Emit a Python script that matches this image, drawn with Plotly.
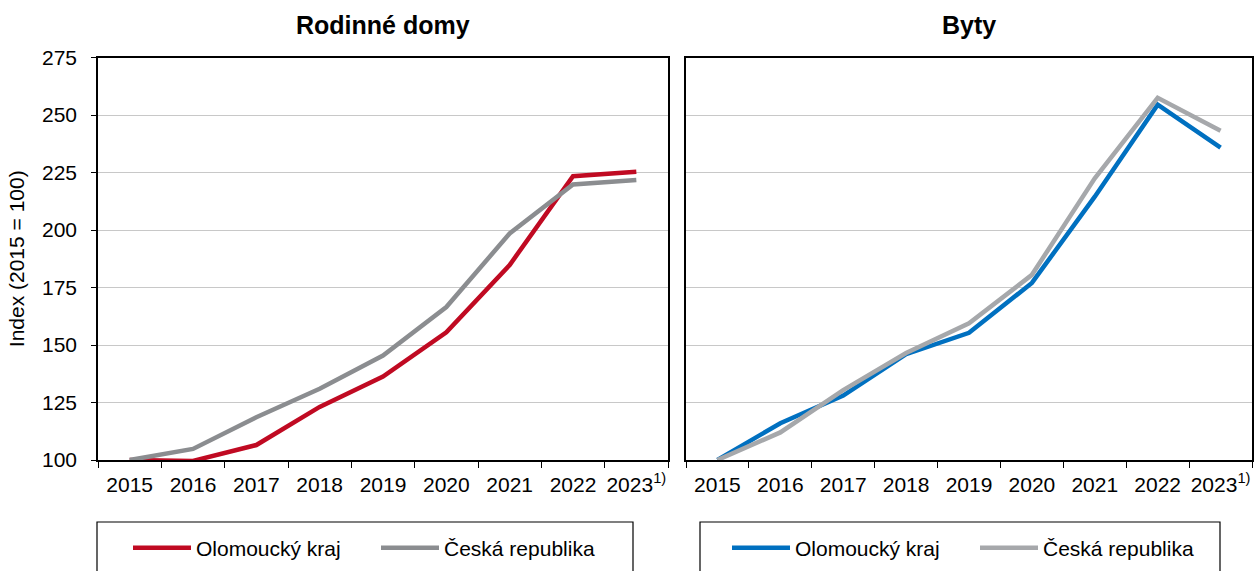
import plotly.graph_objects as go

years = ["2015", "2016", "2017", "2018", "2019", "2020", "2021", "2022", "2023"]
tick_labels = ["2015", "2016", "2017", "2018", "2019", "2020", "2021", "2022", "2023<sup>1)</sup>"]

rd_olomoucky = [100, 99.6, 106.5, 123.1, 136.3, 155.5, 184.8, 223.4, 225.3]
rd_cr = [100, 104.8, 118.6, 131.0, 145.4, 166.5, 198.5, 219.8, 221.7]
byty_olomoucky = [100, 116.0, 128.0, 146.0, 155.3, 177.0, 214.5, 254.5, 235.8]
byty_cr = [100, 112.0, 130.4, 146.5, 159.4, 180.5, 222.5, 257.5, 243.2]

titles = ["Rodinné domy", "Byty"]
series_names = ["Olomoucký kraj", "Česká republika"]
y_title = "Index (2015 = 100)"
y_ticks = [100, 125, 150, 175, 200, 225, 250, 275]

FONT = "Arial, Liberation Sans, sans-serif"
FS = 21
W, H = 1255, 571

def px_x(v):
    return v / W

def px_y(v):
    return (H - v) / H

fig = go.Figure()
fig.add_trace(go.Scatter(x=years, y=rd_olomoucky, name=series_names[0], mode="lines",
                         line=dict(color="#C00A22", width=4.5), xaxis="x", yaxis="y", legend="legend"))
fig.add_trace(go.Scatter(x=years, y=rd_cr, name=series_names[1], mode="lines",
                         line=dict(color="#8B8D90", width=4.5), xaxis="x", yaxis="y", legend="legend"))
fig.add_trace(go.Scatter(x=years, y=byty_olomoucky, name=series_names[0], mode="lines",
                         line=dict(color="#0070C0", width=4.5), xaxis="x2", yaxis="y2", legend="legend2"))
fig.add_trace(go.Scatter(x=years, y=byty_cr, name=series_names[1], mode="lines",
                         line=dict(color="#A6A8AB", width=4.5), xaxis="x2", yaxis="y2", legend="legend2"))

ydom = [px_y(460), px_y(57.5)]

def xaxis(dom, anchor):
    return dict(domain=dom, anchor=anchor, type="category", range=[-0.5, 8.5],
                tickmode="array", tickvals=years, ticktext=tick_labels, tickangle=0,
                tickson="boundaries", ticks="outside", ticklen=6, tickcolor="black",
                ticklabelstandoff=5, automargin=False,
                showline=True, linecolor="black", linewidth=1.5, mirror=True,
                showgrid=False, tickfont=dict(size=FS, color="black", family=FONT))

def yaxis(anchor, labels):
    return dict(domain=ydom, anchor=anchor, range=[100, 275], tickvals=y_ticks,
                showticklabels=labels, ticks="outside" if labels else "", ticklen=5,
                ticklabelstandoff=10 if labels else 0, automargin=False,
                tickcolor="black", showline=True, linecolor="black", linewidth=1.5,
                mirror=True, showgrid=True, gridcolor="#C8C8C8", gridwidth=1,
                zeroline=False, tickfont=dict(size=FS, color="black", family=FONT))

leg_common = dict(orientation="h", xanchor="left", yanchor="middle",
                  bgcolor="rgba(0,0,0,0)", borderwidth=0,
                  font=dict(size=FS, color="black", family=FONT),
                  entrywidthmode="pixels", entrywidth=175, itemwidth=58)

title_font = dict(size=25, color="black", family=FONT)

fig.update_layout(
    width=W, height=H,
    margin=dict(l=0, r=0, t=0, b=0),
    paper_bgcolor="white", plot_bgcolor="white",
    showlegend=True,
    xaxis=xaxis([px_x(98), px_x(668)], "y"),
    yaxis=dict(yaxis("x", True), title=dict(text=y_title, font=dict(size=FS, color="black", family=FONT), standoff=12)),
    xaxis2=xaxis([px_x(686), px_x(1252)], "y2"),
    yaxis2=yaxis("x2", False),
    legend=dict(leg_common, x=px_x(128), y=px_y(548)),
    legend2=dict(leg_common, x=px_x(727), y=px_y(548)),
    annotations=[
        dict(text="<b>%s</b>" % titles[0], x=(px_x(98) + px_x(668)) / 2, y=px_y(25),
             xanchor="center", yanchor="middle",
             xref="paper", yref="paper", showarrow=False, font=title_font),
        dict(text="<b>%s</b>" % titles[1], x=(px_x(686) + px_x(1252)) / 2, y=px_y(25),
             xanchor="center", yanchor="middle",
             xref="paper", yref="paper", showarrow=False, font=title_font),
    ],
    shapes=[
        dict(type="rect", xref="paper", yref="paper", x0=px_x(97), x1=px_x(633),
             y0=px_y(590), y1=px_y(522), line=dict(color="black", width=1.2), fillcolor="rgba(0,0,0,0)"),
        dict(type="rect", xref="paper", yref="paper", x0=px_x(700), x1=px_x(1220),
             y0=px_y(590), y1=px_y(522), line=dict(color="black", width=1.2), fillcolor="rgba(0,0,0,0)"),
    ],
)

fig.write_html("out.html", config={"displayModeBar": False},
               post_script="document.body.style.margin='0';document.body.style.overflow='hidden';")
